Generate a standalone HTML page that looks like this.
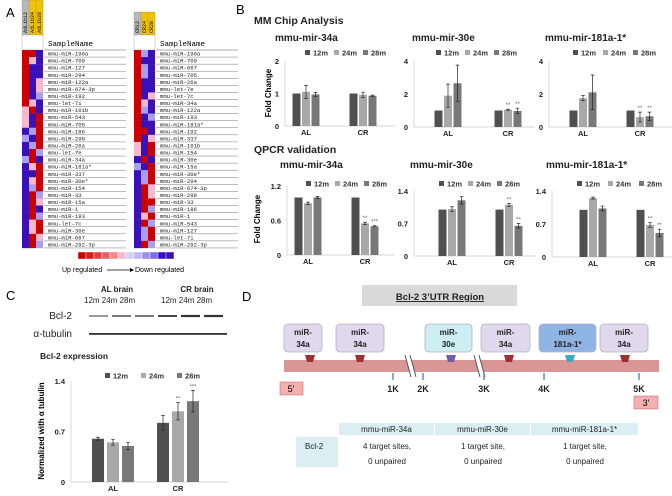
<!DOCTYPE html>
<html><head><meta charset="utf-8"><style>
html,body{margin:0;padding:0;background:#fff;}
svg{display:block;font-family:"Liberation Sans",sans-serif;}
.mono{font-family:"Liberation Mono",monospace;}
</style></head><body>
<svg id="fig" width="672" height="496" viewBox="0 0 672 496" xmlns="http://www.w3.org/2000/svg">
<text x="6" y="17" font-size="13">A</text>
<text x="236" y="14" font-size="13">B</text>
<text x="6" y="300" font-size="13">C</text>
<text x="242" y="301" font-size="13">D</text>
<g id="panelA"></g>
<g id="panelB"></g>
<g id="panelC"></g>
<g id="panelD"></g>
</svg>
<script>
// ---------- Heatmap data ----------
const leftNames=["mmu-miR-196a","mmu-miR-709","mmu-miR-127","mmu-miR-294","mmu-miR-122a","mmu-miR-674-3p","mmu-miR-192","mmu-let-7i","mmu-miR-101b","mmu-miR-543","mmu-miR-705","mmu-miR-186","mmu-miR-298","mmu-miR-26a","mmu-let-7e","mmu-miR-34a","mmu-miR-181a*","mmu-miR-337","mmu-miR-30e*","mmu-miR-154","mmu-miR-33","mmu-miR-15a","mmu-miR-1","mmu-miR-193","mmu-let-7c","mmu-miR-30e","mmu-miR-667","mmu-miR-292-3p"];
const leftCells=["RRB","RrB","RBB","RBB","RBr","RBr","RBb","RrB","rRB","rBR","rBR","BbR","bBR","BbR","BRb","bRB","BrR","BBR","BrR","BbR","BRb","BRr","BRB","BRb","BrR","BrR","BRr","BRb"];
const rightNames=["mmu-miR-196a","mmu-miR-709","mmu-miR-667","mmu-miR-705","mmu-miR-26a","mmu-let-7e","mmu-let-7c","mmu-miR-34a","mmu-miR-122a","mmu-miR-193","mmu-miR-181a*","mmu-miR-192","mmu-miR-337","mmu-miR-101b","mmu-miR-154","mmu-miR-30e","mmu-miR-15a","mmu-miR-30e*","mmu-miR-294","mmu-miR-674-3p","mmu-miR-298","mmu-miR-33","mmu-miR-186","mmu-miR-1","mmu-miR-543","mmu-miR-127","mmu-let-7i","mmu-miR-292-3p"];
const rightCells=["RbB","RBB","RbB","RbB","RBB","RBB","RBr","RrB","RbB","RBb","RBB","RRB","RBr","rBR","rBR","BRB","bBR","BbR","BbR","BRr","BRr","BRR","BRb","BrR","BRb","BbR","BbR","BRb"];
const leftHeaders=["AdLib12","AdLib24","AdLib28"];
const rightHeaders=["CR12","CR24","CR28"];
const scaleColors=["#cc0000","#d91a1a","#e04040","#e86060","#f08888","#f6b8d0","#d8d0f0","#c0b8f0","#9a90e8","#7a70e0","#3010cc","#4010b0"];

// ---------- Chart data (panel B, C) ----------
const cats=["AL","CR"];
const legendLabels=["12m","24m","28m"];
const chip34a_12=[1,1], chip34a_24=[1.05,0.96], chip34a_28=[0.97,0.93];
const chip34a_e24=[0.2,0.08], chip34a_e28=[0.06,0.02];
const chip30e_12=[1,1], chip30e_24=[1.9,1.05], chip30e_28=[2.65,0.97];
const chip30e_e24=[0.7,0.03], chip30e_e28=[1.1,0.17];
const chip181_12=[1,1], chip181_24=[1.75,0.6], chip181_28=[2.1,0.65];
const chip181_e24=[0.15,0.3], chip181_e28=[1.05,0.25];
const q34a_12=[1,1], q34a_24=[0.9,0.55], q34a_28=[1.0,0.5];
const q34a_e24=[0.02,0.02], q34a_e28=[0.02,0.01];
const q30e_12=[1,1], q30e_24=[1.01,1.1], q30e_28=[1.2,0.65];
const q30e_e24=[0.05,0.03], q30e_e28=[0.08,0.05];
const q181_12=[1,1], q181_24=[1.25,0.68], q181_28=[1.03,0.51];
const q181_e24=[0.02,0.05], q181_e28=[0.05,0.08];
const bcl_12=[0.6,0.82], bcl_24=[0.55,0.98], bcl_28=[0.5,1.12];
const bcl_e12=[0.02,0.1], bcl_e24=[0.04,0.12], bcl_e28=[0.05,0.15];
const chipTicks34=["0","1","2"], chipTicks4=["0","2","4"];
const qTicks34=["0","0.6","1.2"], qTicks14=["0","0.7","1.4"];

const NS="http://www.w3.org/2000/svg";
function mk(parent,tag,attrs,text){const e=document.createElementNS(NS,tag);for(const k in attrs)e.setAttribute(k,attrs[k]);if(text!==undefined)e.textContent=text;parent.appendChild(e);return e;}
const colMap={R:"#cc0000",r:"#f5b8cc",B:"#3a10b8",b:"#a8a0ee"};

// ---------- Panel A ----------
const A=document.getElementById('panelA');
function heatmap(x0,yHead,names,cells,headers,nameX){
  const cw=7, y0=50, rh=7.07;
  headers.forEach((h,i)=>{
    const r=mk(A,'rect',{x:x0+i*cw,y:yHead,width:cw,height:35-yHead,fill:i===0?"#b8b8b8":"#f2c200",stroke:"#888","stroke-width":0.3});
    
    
    const t=mk(A,'text',{x:0,y:0,"font-size":5,transform:`translate(${x0+i*cw+5},${33}) rotate(-90)`,class:"mono"},h);
    
    
  });
  mk(A,'rect',{x:x0,y:35,width:cw*3,height:15,fill:"#fff",stroke:"#999","stroke-width":0.4});
  const sn=mk(A,'text',{x:nameX,y:46,"font-size":7.5,class:"mono"},"SampleName");
  
  
  mk(A,'line',{x1:nameX-4,x2:nameX+78,y1:50,y2:50,stroke:"#555","stroke-width":0.6});
  names.forEach((n,r)=>{
    const y=y0+r*rh;
    for(let c=0;c<3;c++){
      const cell=mk(A,'rect',{x:x0+c*cw,y:y,width:cw,height:rh+0.2,fill:colMap[cells[r][c]]});
      
      
    }
    const t=mk(A,'text',{x:nameX,y:y+5.6,"font-size":5.6,class:"mono",fill:"#222"},n);
    
    
    mk(A,'line',{x1:nameX-4,x2:nameX+78,y1:y+rh,y2:y+rh,stroke:"#777","stroke-width":0.5});
  });
}
heatmap(22,0,leftNames,leftCells,leftHeaders,48);
heatmap(134,12,rightNames,rightCells,rightHeaders,160);
scaleColors.forEach((c,i)=>{
  const r=mk(A,'rect',{x:78+i*8,y:252,width:8,height:7,fill:c,stroke:"#fff","stroke-width":0.4});
  
  
});
mk(A,'text',{x:62,y:272,"font-size":7},"Up regulated");
mk(A,'line',{x1:107,x2:130,y1:270,y2:270,stroke:"#000","stroke-width":0.8});
mk(A,'path',{d:"M130,268 L134,270 L130,272 Z",fill:"#000"});
mk(A,'text',{x:135,y:272,"font-size":7},"Down regulated");

// ---------- Chart drawing ----------
const barCols=["#505050","#a8a8a8","#787878"];
function chart(g,o){
  const sc=v=>o.y0-(v/o.max)*(o.y0-o.y1);
  mk(g,'line',{x1:o.x0,x2:o.x0,y1:o.y1,y2:o.y0,stroke:"#d0d0d0","stroke-width":0.8});
  mk(g,'line',{x1:o.x0,x2:o.x2,y1:o.y0,y2:o.y0,stroke:"#c8c8c8","stroke-width":0.8});
  o.ticks.forEach((t,i)=>{
    const v=o.max*i/(o.ticks.length-1);
    const tt=mk(g,'text',{x:o.x0-6,y:sc(v)+3,"font-size":o.fs||7.5,"font-weight":"bold","text-anchor":"end",fill:"#222"},t);
    
    
  });
  const series=[o.s12,o.s24,o.s28], errs=[o.e12||[0,0],o.e24,o.e28];
  cats.forEach((c,ci)=>{
    const cx=o.cx[ci];
    const lab=mk(g,'text',{x:cx,y:o.y0+9,"font-size":o.fs||7.5,"font-weight":"bold","text-anchor":"middle",fill:"#222"},c);
    
    
    series.forEach((s,si)=>{
      const bx=cx+(si-1)*(o.bw+o.gap)-o.bw/2;
      const top=sc(s[ci]);
      const b=mk(g,'rect',{x:bx,y:top,width:o.bw,height:o.y0-top,fill:barCols[si]});
      
      
      const e=errs[si][ci];
      if(e>0){
        const m=bx+o.bw/2, a=sc(s[ci]+e), z=sc(s[ci]-e);
        mk(g,'path',{d:`M${m},${a}V${z}M${m-1.8},${a}H${m+1.8}M${m-1.8},${z}H${m+1.8}`,stroke:"#222","stroke-width":0.7,fill:"none"});
      }
      if(o.stars&&o.stars[si]&&o.stars[si][ci]){
        const st=mk(g,'text',{x:bx+o.bw/2,y:sc(s[ci]+e)-2,"font-size":6,"text-anchor":"middle",fill:"#666"},o.stars[si][ci]);
        
        
      }
    });
  });
  legendLabels.forEach((l,i)=>{
    const lx=o.lx+i*o.lstep;
    mk(g,'rect',{x:lx,y:o.ly-6,width:5,height:5,fill:barCols[i]});
    const t=mk(g,'text',{x:lx+8,y:o.ly-0.5,"font-size":o.lfs||8,"font-weight":"bold",fill:"#333"},l);
    
    
  });
  if(o.title){const t=mk(g,'text',{x:o.tx,y:o.ty,"font-size":10,"font-weight":"bold",fill:"#222"},o.title);
    
    }
}

// ---------- Panel B ----------
const B=document.getElementById('panelB');
mk(B,'text',{x:254,y:24,"font-size":10.5,"font-weight":"bold",fill:"#222"},"MM Chip Analysis");
mk(B,'text',{x:254,y:153,"font-size":10.5,"font-weight":"bold",fill:"#222"},"QPCR validation");
[[271,93],[260,219]].forEach(([x,y])=>{
  const t=mk(B,'text',{x:0,y:0,"font-size":8,"font-weight":"bold","text-anchor":"middle",transform:`translate(${x},${y}) rotate(-90)`},"Fold Change");
  
  
});
const cB={bw:8,gap:1.5,lstep:29,lfs:7.5};
chart(B,Object.assign({},cB,{x0:285,x2:395,y0:126,y1:61,max:2,ticks:chipTicks34,cx:[306,363],s12:chip34a_12,s24:chip34a_24,s28:chip34a_28,e24:chip34a_e24,e28:chip34a_e28,lx:305,ly:56,title:"mmu-mir-34a",tx:275,ty:41}));
chart(B,Object.assign({},cB,{x0:414,x2:535,y0:127,y1:61,max:4,ticks:chipTicks4,cx:[448,508],s12:chip30e_12,s24:chip30e_24,s28:chip30e_28,e24:chip30e_e24,e28:chip30e_e28,lx:436,ly:56,title:"mmu-mir-30e",tx:412,ty:41,stars:[null,[null,"**"],[null,"**"]]}));
chart(B,Object.assign({},cB,{x0:549,x2:672,y0:127,y1:61,max:4,ticks:chipTicks4,cx:[583,640],s12:chip181_12,s24:chip181_24,s28:chip181_28,e24:chip181_e24,e28:chip181_e28,lx:573,ly:56,lstep:30,title:"mmu-mir-181a-1*",tx:545,ty:41,stars:[null,[null,"**"],[null,"**"]]}));
chart(B,Object.assign({},cB,{x0:287,x2:395,y0:255,y1:186,max:1.2,ticks:qTicks34,cx:[308,365],s12:q34a_12,s24:q34a_24,s28:q34a_28,e24:q34a_e24,e28:q34a_e28,lx:306,ly:187,lstep:29,title:"mmu-mir-34a",tx:280,ty:168,stars:[null,[null,"**"],[null,"***"]]}));
chart(B,Object.assign({},cB,{x0:414,x2:535,y0:256,y1:191,max:1.4,ticks:qTicks14,cx:[452,509],s12:q30e_12,s24:q30e_24,s28:q30e_28,e24:q30e_e24,e28:q30e_e28,lx:439,ly:187,lstep:29,title:"mmu-mir-30e",tx:410,ty:168,stars:[null,[null,"**"],[null,"**"]]}));
chart(B,Object.assign({},cB,{x0:552,x2:672,y0:257,y1:191,max:1.4,ticks:qTicks14,cx:[593,650],s12:q181_12,s24:q181_24,s28:q181_28,e24:q181_e24,e28:q181_e28,lx:577,ly:187,lstep:31,title:"mmu-mir-181a-1*",tx:546,ty:168,stars:[null,[null,"**"],[null,"**"]]}));

// ---------- Panel C ----------
const C=document.getElementById('panelC');
mk(C,'text',{x:117,y:292,"font-size":8,"font-weight":"bold","text-anchor":"middle",fill:"#222"},"AL brain");
mk(C,'text',{x:197,y:292,"font-size":8,"font-weight":"bold","text-anchor":"middle",fill:"#222"},"CR brain");
mk(C,'text',{x:84,y:303,"font-size":8,fill:"#222"},"12m 24m 28m");
mk(C,'text',{x:161,y:303,"font-size":8,fill:"#222"},"12m 24m 28m");
mk(C,'text',{x:72,y:319,"font-size":10,"text-anchor":"end",fill:"#222"},"Bcl-2");
mk(C,'text',{x:72,y:337,"font-size":10,"text-anchor":"end",fill:"#222"},"α-tubulin");
const bandW=[1.0,1.3,1.3,1.8,2.2,2.2];
bandW.forEach((w,i)=>{
  const b=mk(C,'rect',{x:89+i*23,y:316-w/2,width:19,height:w,fill:"#333"});
  
  
  const t=mk(C,'rect',{x:89+i*23,y:333,width:23,height:1.8,fill:"#333"});
  
  
});
mk(C,'text',{x:40,y:359,"font-size":8.5,"font-weight":"bold",fill:"#222"},"Bcl-2 expression");
const yt=mk(C,'text',{x:0,y:0,"font-size":8,"font-weight":"bold","text-anchor":"middle",transform:"translate(44,431) rotate(-90)"},"Normalized with α tubulin");


chart(C,{x0:71,x2:228,y0:482,y1:381,max:1.4,ticks:qTicks14,cx:[113,178],bw:12,gap:3,s12:bcl_12,s24:bcl_24,s28:bcl_28,e12:bcl_e12,e24:bcl_e24,e28:bcl_e28,lx:105,ly:379,lstep:36,lfs:7.5,stars:[null,[null,"**"],[null,"***"]]});

// ---------- Panel D ----------
const D=document.getElementById('panelD');
mk(D,'rect',{x:362,y:285,width:155,height:21,fill:"#d9d9d9"});
const tt=mk(D,'text',{x:440,y:300,"font-size":9.5,"font-weight":"bold","text-anchor":"middle","text-decoration":"underline",fill:"#222"},"Bcl-2 3\u2019UTR Region");


mk(D,'rect',{x:284,y:360,width:375,height:12,fill:"#d99694"});
[[405,412],[474,481]].forEach(([a,b])=>{
  mk(D,'path',{d:`M${a},355 L${b-2},355 L${b+4},377 L${a+6},377 Z`,fill:"#fff"});
  mk(D,'line',{x1:a,y1:355,x2:a+6,y2:377,stroke:"#555","stroke-width":1});
  mk(D,'line',{x1:b-2,y1:355,x2:b+4,y2:377,stroke:"#555","stroke-width":1});
});
const boxes=[[284,322,"#e0d8ec","34a","#a03030",310],[336,384,"#e0d8ec","34a","#a03030",360],[425,472,"#cdeef2","30e","#7060a8",451],[481,530,"#e0d8ec","34a","#a03030",509],[539,596,"#8fb4e3","181a-1*","#40a8c0",570],[600,648,"#e0d8ec","34a","#a03030",625]];
boxes.forEach(([a,b,f,l,mc,mx])=>{
  const r=mk(D,'rect',{x:a,y:324,width:b-a,height:28,rx:4,fill:f,stroke:"#b8b0c8","stroke-width":0.8});
  
  
  mk(D,'text',{x:(a+b)/2,y:335,"font-size":8,"font-weight":"bold","text-anchor":"middle",fill:"#222"},"miR-");
  mk(D,'text',{x:(a+b)/2,y:347,"font-size":8,"font-weight":"bold","text-anchor":"middle",fill:"#222"},l);
  mk(D,'path',{d:`M${mx-5},355 L${mx+5},355 L${mx+3},362 L${mx-3},362 Z`,fill:mc});
});
[[393,"1K"],[423,"2K"],[484,"3K"],[544,"4K"],[639,"5K"]].forEach(([x,l])=>{
  mk(D,'line',{x1:x,x2:x,y1:373,y2:380,stroke:"#5b8fc8","stroke-width":1.5});
  const t=mk(D,'text',{x:x,y:392,"font-size":9,"font-weight":"bold","text-anchor":"middle",fill:"#222"},l);
  
  
});
mk(D,'rect',{x:280,y:382,width:23,height:13,fill:"#f4b0b0",stroke:"#c06060","stroke-width":0.5});
mk(D,'text',{x:291,y:392,"font-size":9,"text-anchor":"middle"},"5\u2032");
mk(D,'rect',{x:634,y:396,width:24,height:13,fill:"#f4b0b0",stroke:"#c06060","stroke-width":0.5});
mk(D,'text',{x:646,y:406,"font-size":9,"text-anchor":"middle"},"3\u2032");
[[339,434,"mmu-miR-34a"],[435,530,"mmu-miR-30e"],[531,638,"mmu-miR-181a-1*"]].forEach(([a,b,l])=>{
  mk(D,'rect',{x:a,y:423,width:b-a,height:12,fill:"#daeef3"});
  const t=mk(D,'text',{x:(a+b)/2,y:432,"font-size":8,"text-anchor":"middle",fill:"#222"},l);
  
  
});
mk(D,'rect',{x:296,y:437,width:42,height:30,fill:"#daeef3"});
mk(D,'text',{x:305,y:449,"font-size":8,fill:"#222"},"Bcl-2");
[[387,"4 target sites,"],[483,"1 target site,"],[585,"1 target site,"]].forEach(([x,l])=>{
  mk(D,'text',{x:x,y:449,"font-size":8,"text-anchor":"middle",fill:"#222"},l);
  mk(D,'text',{x:x,y:464,"font-size":8,"text-anchor":"middle",fill:"#222"},"0 unpaired");
});
</script>
</body></html>
